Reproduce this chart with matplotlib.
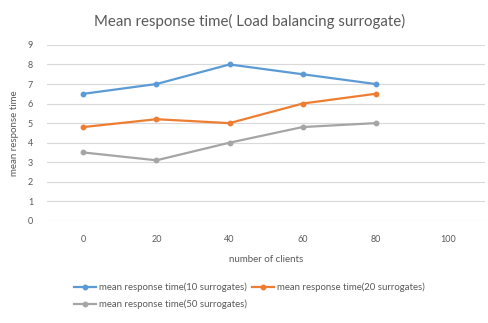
import matplotlib
matplotlib.use("Agg")
import matplotlib.pyplot as plt
import numpy as np

plt.rcParams['font.family'] = ['Lato', 'DejaVu Sans']

clients = ["0", "20", "40", "60", "80", "100"]
rt_10 = [6.5, 7.0, 8.0, 7.5, 7.0]
rt_20 = [4.8, 5.2, 5.0, 6.0, 6.5]
rt_50 = [3.5, 3.1, 4.0, 4.8, 5.0]
y_ticks = [0, 1, 2, 3, 4, 5, 6, 7, 8, 9]

fig = plt.figure(figsize=(4.89, 3.23), dpi=100)
ax = fig.add_axes([0.096, 0.316, 0.896, 0.545])

x = np.arange(len(clients))
txt = "#595959"
l10, = ax.plot(x[:len(rt_10)], rt_10, color="#5B9BD5", lw=1.6, marker="o", ms=3.2,
               label="mean response time(10 surrogates)")
l20, = ax.plot(x[:len(rt_20)], rt_20, color="#ED7D31", lw=1.6, marker="o", ms=3.2,
               label="mean response time(20 surrogates)")
l50, = ax.plot(x[:len(rt_50)], rt_50, color="#A5A5A5", lw=1.6, marker="o", ms=3.2,
               label="mean response time(50 surrogates)")

ax.set_xlim(-0.5, len(clients) - 0.5)
ax.set_ylim(0, 9)
ax.set_xticks(x)
ax.set_xticklabels(clients)
ax.set_yticks(y_ticks)
ax.tick_params(axis="x", length=0, labelsize=6.5, labelcolor=txt, pad=10)
ax.tick_params(axis="y", length=0, labelsize=6.5, labelcolor=txt, pad=10)
ax.grid(axis="y", color="#D9D9D9", lw=0.8)
ax.set_axisbelow(True)
for s in ax.spines.values():
    s.set_visible(False)

ax.set_xlabel("number of clients", fontsize=7, color=txt, labelpad=8)
ax.set_ylabel("mean response time", fontsize=7, color=txt, labelpad=6)
fig.text(0.51, 0.935, "Mean response time( Load balancing surrogate)", ha="center",
         va="center", fontsize=10.8, color=txt)

fig.legend(handles=[l10, l50, l20], ncol=2, loc="upper left",
           bbox_to_anchor=(0.152, 0.125), bbox_transform=fig.transFigure,
           frameon=False, fontsize=6.9, labelcolor=txt, handlelength=2.3,
           handletextpad=0.3, columnspacing=0.5, labelspacing=0.75,
           borderpad=0, borderaxespad=0)

fig.savefig("out.png", dpi=100, facecolor="white")
